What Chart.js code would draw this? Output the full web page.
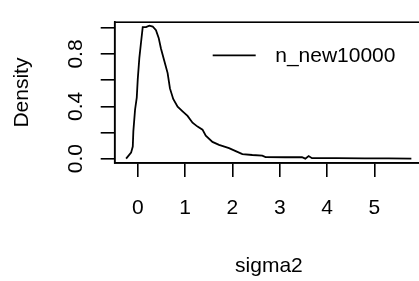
<!DOCTYPE html>
<html>
<head>
<meta charset="utf-8">
<script src="https://cdn.jsdelivr.net/npm/chart.js@4/dist/chart.umd.min.js"></script>
<style>
html,body{margin:0;padding:0;background:#fff;overflow:hidden;width:419px;height:281px;}
canvas{display:block;}
</style>
</head>
<body>
<canvas id="c" width="430" height="281"></canvas>
<script>
// sigma2 values (x) and density values (y)
const sigma2 = [-0.246, -0.141, -0.105, -0.093, -0.057, -0.021, 0.0, 0.034, 0.069, 0.105, 0.175, 0.244, 0.316, 0.385, 0.442, 0.49, 0.56, 0.631, 0.68, 0.749, 0.842, 0.947, 1.052, 1.157, 1.263, 1.368, 1.437, 1.578, 1.717, 1.928, 2.069, 2.21, 2.42, 2.63, 2.70, 3.12, 3.47, 3.54, 3.61, 3.68, 4.2, 4.8, 5.3, 5.78];
const density = [0.0, 0.046, 0.093, 0.21, 0.374, 0.467, 0.607, 0.771, 0.888, 1.005, 1.005, 1.017, 1.01, 0.982, 0.923, 0.842, 0.748, 0.654, 0.537, 0.456, 0.397, 0.362, 0.327, 0.275, 0.245, 0.222, 0.175, 0.128, 0.105, 0.081, 0.058, 0.035, 0.028, 0.023, 0.012, 0.011, 0.011, 0.0, 0.02, 0.004, 0.004, 0.003, 0.002, 0.001];
const seriesLabel = "n_new10000";
const xTicks = [0, 1, 2, 3, 4, 5];
const yTicks = [0, 0.2, 0.4, 0.6, 0.8, 1.0];
const yTickLabels = ["0.0", "", "0.4", "", "0.8", ""];
const xTitle = "sigma2";
const yTitle = "Density";

const FONT = "'Liberation Sans', Arial, sans-serif";
const points = sigma2.map((x, i) => ({x: x, y: density[i]}));

const boxPlugin = {
  id: 'box',
  afterDraw(chart) {
    const {ctx, chartArea: a} = chart;
    ctx.save();
    ctx.strokeStyle = '#000';
    ctx.lineWidth = 1.6;
    ctx.strokeRect(a.left, a.top, a.right - a.left, a.bottom - a.top);
    ctx.restore();
  }
};

const legendPlugin = {
  id: 'rlegend',
  afterDraw(chart) {
    const {ctx, chartArea: a} = chart;
    const ds = chart.data.datasets[0];
    const y = a.top + 33.2;
    ctx.save();
    ctx.strokeStyle = '#000';
    ctx.lineWidth = 1.8;
    ctx.beginPath();
    ctx.moveTo(a.left + 98, y);
    ctx.lineTo(a.left + 141, y);
    ctx.stroke();
    ctx.fillStyle = '#000';
    ctx.font = "21px " + FONT;
    ctx.textBaseline = 'middle';
    ctx.textAlign = 'left';
    ctx.fillText(ds.label, a.left + 160.5, y + 1);
    ctx.restore();
  }
};

new Chart(document.getElementById('c'), {
  type: 'scatter',
  data: {
    datasets: [{
      label: seriesLabel,
      data: points,
      showLine: true,
      borderColor: '#000',
      borderWidth: 1.8,
      pointRadius: 0,
      tension: 0,
      fill: false
    }]
  },
  options: {
    responsive: false,
    animation: false,
    devicePixelRatio: 1,
    layout: {padding: {top: 9.5, right: 6.8, left: 0, bottom: 0}},
    plugins: {legend: {display: false}, tooltip: {enabled: false}},
    scales: {
      x: {
        type: 'linear',
        min: -0.487,
        max: 6.03,
        afterFit(s) { s.height = 118; },
        afterBuildTicks(s) { s.ticks = xTicks.map(v => ({value: v})); },
        grid: {drawOnChartArea: false, drawTicks: true, tickLength: 14, color: '#000', lineWidth: 1.6},
        border: {display: true, color: '#000', width: 1.6},
        ticks: {color: '#000', font: {family: FONT, size: 21}, padding: 18.4, maxRotation: 0, autoSkip: false,
                callback: v => String(v)},
        title: {display: true, text: xTitle, color: '#000', font: {family: FONT, size: 21}, padding: {top: 0, bottom: 2.4}}
      },
      y: {
        type: 'linear',
        min: -0.033,
        max: 1.043,
        afterFit(s) { s.width = 114.7; },
        afterBuildTicks(s) { s.ticks = yTicks.map(v => ({value: v})); },
        grid: {drawOnChartArea: false, drawTicks: true, tickLength: 14, color: '#000', lineWidth: 1.6},
        border: {display: true, color: '#000', width: 1.6},
        ticks: {color: '#000', font: {family: FONT, size: 21}, padding: 9.6, minRotation: 90, maxRotation: 90,
                crossAlign: 'center', autoSkip: false,
                callback: (v, i) => yTickLabels[yTicks.indexOf(Math.round(v * 10) / 10)] ?? ''},
        title: {display: true, text: yTitle, color: '#000', font: {family: FONT, size: 21}, padding: {top: 9.7, bottom: 0}}
      }
    }
  },
  plugins: [boxPlugin, legendPlugin]
});
</script>
</body>
</html>
